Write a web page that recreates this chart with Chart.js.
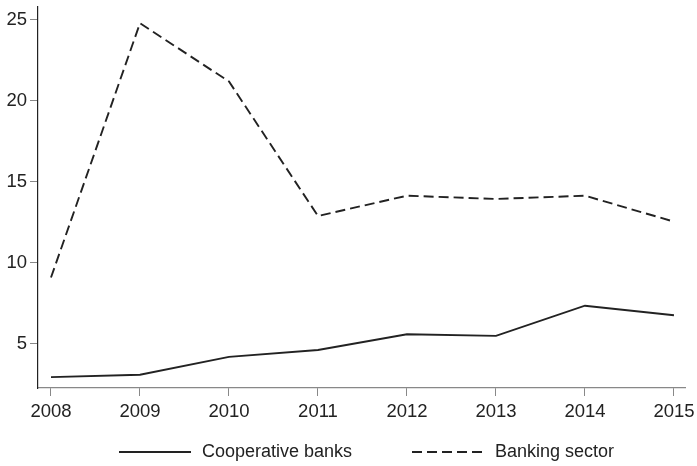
<!DOCTYPE html>
<html>
<head>
<meta charset="utf-8">
<script src="https://cdn.jsdelivr.net/npm/chart.js@4"></script>
<style>
  html, body { margin: 0; padding: 0; background: #fff; }
  #wrap { width: 697px; height: 466px; }
</style>
</head>
<body>
<div id="wrap"><canvas id="chart" width="697" height="466"></canvas></div>
<script>
// Data
const years = [2008, 2009, 2010, 2011, 2012, 2013, 2014, 2015];
const cooperativeBanks = [2.95, 3.1, 4.2, 4.63, 5.6, 5.5, 7.36, 6.77];
const bankingSector = [9.1, 24.8, 21.2, 12.9, 14.15, 13.95, 14.15, 12.55];
const yTicks = [5, 10, 15, 20, 25];

const ink = '#222';
const font = { family: "'Liberation Sans', Arial, sans-serif", size: 18 };

function toPoints(values) {
    return years.map((yr, i) => ({ x: yr, y: values[i] }));
}

// simple legend drawn under the plot (line sample + label)
const bottomLegend = {
    id: 'bottomLegend',
    afterDraw(chart) {
        const ctx = chart.ctx;
        const starts = [119, 412];
        const y = 452;
        ctx.save();
        ctx.font = font.size + 'px ' + font.family;
        ctx.textBaseline = 'middle';
        chart.data.datasets.forEach((ds, i) => {
            const x0 = starts[i];
            ctx.beginPath();
            ctx.setLineDash(ds.borderDash || []);
            ctx.strokeStyle = ds.borderColor;
            ctx.lineWidth = ds.borderWidth;
            ctx.moveTo(x0, y);
            ctx.lineTo(x0 + 72, y);
            ctx.stroke();
            ctx.setLineDash([]);
            ctx.fillStyle = ink;
            ctx.fillText(ds.label, x0 + 83, y);
        });
        ctx.restore();
    }
};

new Chart(document.getElementById('chart'), {
    type: 'line',
    data: {
        datasets: [{
            label: 'Cooperative banks',
            data: toPoints(cooperativeBanks),
            borderColor: ink,
            borderWidth: 1.9,
            pointRadius: 0,
            tension: 0
        }, {
            label: 'Banking sector',
            data: toPoints(bankingSector),
            borderColor: ink,
            borderWidth: 1.9,
            borderDash: [10, 5],
            pointRadius: 0,
            tension: 0
        }]
    },
    options: {
        responsive: false,
        animation: false,
        layout: { padding: { top: 7, right: 12, bottom: 38, left: 0 } },
        plugins: {
            legend: { display: false },
            tooltip: { enabled: false }
        },
        scales: {
            x: {
                type: 'linear',
                min: 2007.854,
                max: 2015.124,
                afterBuildTicks: (s) => { s.ticks = years.map(v => ({ value: v })); },
                afterFit: (s) => { s.height = 40; s.paddingLeft = 0; s.paddingRight = 0; },
                ticks: {
                    color: ink,
                    font: { family: font.family, size: 18.5 },
                    padding: 5,
                    maxRotation: 0,
                    callback: (v) => String(v)
                },
                grid: { display: true, drawOnChartArea: false, drawTicks: true, tickLength: 8, color: '#888' },
                border: { display: true, color: '#888', width: 1.2 }
            },
            y: {
                min: 2.28,
                max: 25.8,
                afterBuildTicks: (s) => { s.ticks = yTicks.map(v => ({ value: v })); },
                afterFit: (s) => { s.width = 38; s.paddingTop = 0; s.paddingBottom = 0; },
                ticks: { color: ink, font: { family: font.family, size: 18.5 }, padding: 3 },
                grid: { display: true, drawOnChartArea: false, drawTicks: true, tickLength: 8, color: '#888' },
                border: { display: true, color: ink, width: 1.2 }
            }
        }
    },
    plugins: [bottomLegend]
});
</script>
</body>
</html>
